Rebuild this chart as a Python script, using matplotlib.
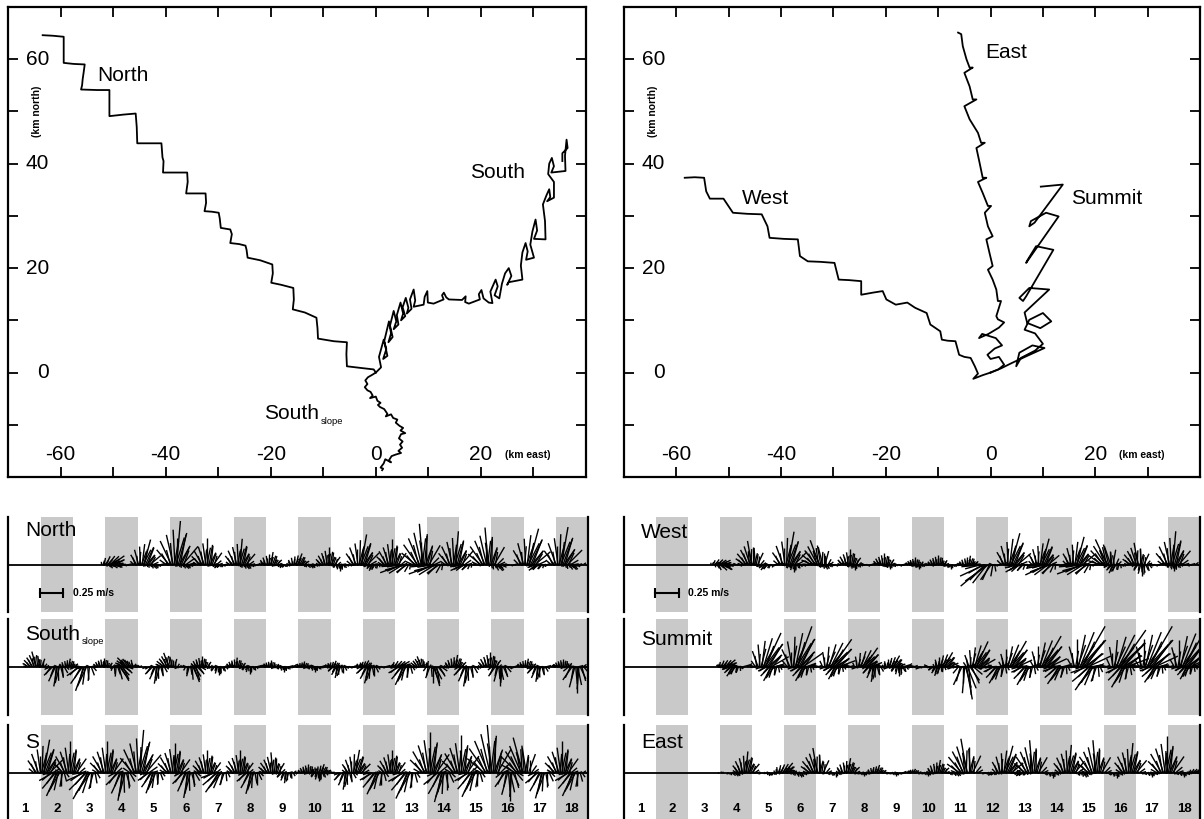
import numpy as np
import matplotlib.pyplot as plt
from matplotlib.collections import LineCollection

plt.rcParams['font.family'] = ['Liberation Sans', 'DejaVu Sans']

# ---------------- progressive vector diagrams (km east, km north) ----------------
north_x = [0, -0.4, -3.0, -5.5, -5.6, -5.5, -8.0, -11.0, -11.1, -11.3, -13.5, -15.8, -15.6, -15.7,
           -18.0, -19.9, -19.6, -19.7, -22.0, -24.4, -24.6, -24.8, -26.0, -27.7, -27.4, -27.7, -29.5,
           -29.7, -29.9, -31.2, -32.6, -32.3, -32.4, -34.0, -36.1, -35.8, -35.9, -38.0, -40.5, -40.4,
           -40.6, -40.8, -43.0, -45.4, -45.5, -45.7, -48.0, -50.7, -50.7, -50.7, -53.0, -56.1, -55.9,
           -55.8, -55.6, -55.4, -57.5, -59.4, -59.4, -59.4, -61.5, -63.4]
north_y = [0, 0.6, 0.9, 1.2, 3.5, 5.8, 6.0, 6.5, 8.5, 10.5, 11.5, 12.1, 14.0, 16.2,
           16.8, 17.2, 19.0, 20.7, 21.5, 22.0, 23.5, 24.3, 24.6, 24.8, 26.5, 27.4, 27.7,
           29.5, 30.6, 30.8, 30.9, 32.5, 34.3, 34.3, 34.3, 36.5, 38.3, 38.3, 38.3, 40.5,
           41.2, 43.9, 43.9, 43.9, 47.0, 49.6, 49.4, 49.1, 52.0, 54.1, 54.1, 54.2, 55.0,
           56.1, 57.5, 59.0, 59.1, 59.3, 62.0, 64.3, 64.5, 64.6]

south_x = [0, 1.0, 0.6, 1.5, 2.0, 1.4, 2.2, 1.6, 2.5, 2.9, 2.4, 3.2, 2.7, 3.4, 3.9, 3.4, 4.3, 4.0,
           4.7, 5.2, 4.8, 5.6, 5.1, 5.7, 6.2, 5.9, 6.8, 6.5, 7.2, 7.5, 7.2, 9.1, 9.3, 9.8, 9.9, 11.0,
           12.9, 12.6, 12.95, 13.4, 13.9, 16.4, 17.1, 17.0, 17.7, 19.8, 19.6, 20.1, 20.5, 21.5, 22.2,
           21.8, 22.8, 23.2, 22.6, 23.5, 24.0, 24.6, 25.3, 25.8, 25.0, 25.3, 27.9, 27.6, 27.9, 28.5,
           28.9, 28.6, 30.1, 29.4, 29.8, 30.4, 30.7, 30.1, 32.3, 32.2, 31.8, 32.5, 33.0, 33.2, 32.6,
           33.9, 33.9, 32.8, 33.0, 33.5, 33.9, 33.4, 36.1, 36.0, 36.3, 36.5, 35.5, 35.5]
south_y = [0, 1.0, 3.0, 6.3, 4.5, 2.6, 3.2, 6.0, 9.8, 7.5, 5.8, 6.8, 9.0, 11.8, 9.8, 8.3, 9.2, 11.0,
           13.4, 11.3, 10.0, 10.8, 12.5, 14.3, 12.4, 11.3, 12.2, 14.0, 15.9, 13.8, 12.6, 13.0, 14.5, 15.6,
           13.4, 13.2, 14.0, 14.8, 15.3, 14.4, 14.0, 13.9, 14.6, 13.5, 13.2, 14.0, 15.0, 15.8, 14.2, 13.4,
           13.3, 15.5, 17.8, 16.5, 14.8, 14.2, 17.0, 19.0, 20.0, 18.5, 16.8, 17.3, 17.8, 20.5, 23.0, 24.8,
           23.2, 21.6, 22.0, 24.5, 27.0, 29.3, 27.2, 25.6, 25.5, 29.0, 32.2, 34.0, 35.1, 33.6, 32.8,
           33.5, 36.5, 38.0, 40.0, 41.1, 39.5, 38.3, 38.6, 41.5, 44.6, 43.0, 42.0, 40.5]

slope_x = [0, -0.8, -1.5, -2.0, -1.6, -2.1, -1.6, -1.0, -0.6, -1.1, 0.0, 0.3, 0.9, 0.4, 0.8, 1.6,
           2.2, 1.9, 2.9, 3.3, 4.1, 3.8, 4.5, 5.2, 4.7, 5.6, 4.8, 4.4, 5.1, 4.6, 5.0, 4.3, 4.8, 3.8,
           3.0, 2.5, 2.9, 1.8, 1.5, 0.9, 1.4, 1.2]
slope_y = [0, -0.5, -0.9, -1.5, -2.2, -2.8, -3.4, -3.7, -4.4, -4.9, -4.6, -5.4, -5.8, -6.2, -6.6, -7.0,
           -7.9, -8.4, -8.0, -8.7, -9.0, -9.6, -10.2, -10.6, -11.1, -11.6, -11.8, -12.6, -13.2, -13.8,
           -14.4, -15.0, -15.4, -15.7, -16.0, -16.8, -17.2, -16.6, -17.4, -18.2, -18.4, -18.7]

west_x = [0, -1.5, -3.3, -2.4, -3.0, -3.8, -5.0, -6.0, -6.7, -8.2, -9.3, -9.6, -11.5, -12.2, -14.4,
          -15.9, -18.1, -19.9, -20.6, -22.5, -24.7, -24.7, -27.0, -29.0, -29.8, -32.5, -34.9, -36.4,
          -36.8, -39.5, -42.2, -42.6, -43.7, -46.5, -49.2, -51.0, -53.6, -54.3, -54.7, -56.5, -58.4]
west_y = [0, -0.5, -1.2, -0.2, 1.2, 2.8, 3.0, 3.4, 6.0, 6.1, 6.3, 7.9, 9.2, 11.4, 12.4,
          13.4, 13.0, 14.0, 15.6, 15.3, 14.9, 17.5, 17.7, 17.8, 21.0, 21.2, 21.3, 22.3,
          25.5, 25.6, 25.8, 28.0, 30.3, 30.4, 30.6, 33.3, 33.3, 34.7, 37.3, 37.4, 37.3]

east_x = [0, 1.5, 2.6, 1.6, 0.0, -0.6, 0.8, 2.2, 1.0, -1.6, -2.2, -0.4, 1.6, 2.6, 1.4, 1.1, 2.0, 1.4,
          1.1, 0.4, -0.5, 0.4, -0.2, -0.8, 0.4, -0.5, -1.1, 0.1, -0.5, -1.5, -2.4, -0.8, -1.5, -2.1,
          -2.7, -1.1, -1.8, -2.4, -4.0, -5.0, -2.7, -3.4, -4.0, -5.0, -3.4, -4.0, -4.6, -5.3, -5.6, -6.2]
east_y = [0, 0.6, 1.5, 3.0, 2.6, 3.4, 4.6, 5.2, 6.6, 7.4, 6.6, 7.4, 8.6, 9.6, 10.2, 10.8, 13.7, 13.7,
          15.9, 17.8, 19.7, 20.4, 22.9, 25.5, 26.1, 28.0, 30.6, 31.9, 31.9, 34.4, 36.5, 37.3, 37.3, 40.2,
          43.0, 44.0, 44.0, 45.9, 48.5, 51.0, 52.3, 52.3, 54.8, 57.4, 58.4, 58.4, 60.0, 62.5, 64.8, 65.1]

summit_x = [0, 2.0, 4.0, 7.0, 10.3, 8.0, 5.5, 4.9, 5.8, 8.5, 10.0, 8.5, 6.5, 7.4, 10.0, 11.6, 9.5,
            7.0, 6.5, 11.2, 7.4, 5.5, 6.2, 6.8, 12.0, 8.7, 7.1, 6.8, 7.7, 13.0, 10.6, 7.7, 7.4, 8.4,
            13.8, 9.6]
summit_y = [0, 0.8, 1.8, 3.2, 4.7, 5.2, 3.8, 1.2, 2.8, 4.2, 5.5, 7.5, 8.2, 10.1, 11.4, 9.8, 8.5,
            9.5, 11.5, 15.9, 16.2, 14.3, 13.7, 14.6, 23.5, 24.2, 21.6, 21.0, 22.3, 29.9, 30.6, 29.0,
            28.0, 28.7, 36.0, 35.6]

# ---------------- stick plots: fan time (day), peak speed (m/s), lean (deg, + = east) ----------------
north_up_t = [3.18, 4.19, 5.21, 6.17, 7.18, 8.14, 8.98, 9.94, 10.95, 11.91, 12.87, 13.88, 14.90, 16.16, 17.17]
north_up_v = [0.17, 0.28, 0.47, 0.29, 0.28, 0.14, 0.13, 0.19, 0.33, 0.28, 0.44, 0.36, 0.40, 0.40, 0.41]
north_up_a = [55, 15, 5, 0, 5, 10, 20, 0, 10, 0, -5, 5, -5, 15, 10]
north_dn_t = [3.3, 4.5, 5.5, 6.5, 7.4, 8.5, 9.4, 10.3, 11.3, 12.2, 13.2, 14.1, 15.2, 16.4, 17.5]
north_dn_v = [0.07, 0.05, 0.05, 0.05, 0.05, 0.04, 0.04, 0.06, 0.07, 0.24, 0.28, 0.14, 0.08, 0.10, 0.07]
north_dn_a = [70, 40, 40, -50, 30, -40, 30, 0, -30, -70, -70, -65, 40, -55, 45]

slope_up_t = [0.84, 1.86, 2.94, 3.66, 4.97, 5.99, 7.07, 8.14, 9.16, 10.1, 11.07, 12.15, 12.81, 13.88, 14.96, 16.1, 17.23]
slope_up_v = [0.17, 0.09, 0.10, 0.14, 0.16, 0.12, 0.10, 0.07, 0.06, 0.07, 0.08, 0.12, 0.12, 0.13, 0.16, 0.09, 0.09]
slope_up_a = [-15, 10, 0, -45, -20, 0, 5, 0, 10, 20, 30, 60, -20, 10, 0, 10, 0]
slope_dn_t = [1.5, 2.34, 3.48, 4.61, 5.75, 6.53, 7.48, 8.56, 9.52, 10.23, 11.19, 12.27, 13.23, 14.24, 15.26, 16.46, 17.65]
slope_dn_v = [0.21, 0.27, 0.17, 0.18, 0.17, 0.09, 0.07, 0.05, 0.05, 0.12, 0.18, 0.21, 0.21, 0.21, 0.20, 0.16, 0.28]
slope_dn_a = [-10, -20, 30, -10, 20, 0, 0, 0, 0, -15, -15, -25, 15, -10, 0, -10, 0]

s_up_t = [1.08, 1.91, 3.06, 4.07, 5.15, 6.17, 7.19, 8.20, 9.30, 9.70, 10.77, 11.91, 13.10, 14.06, 15.00, 15.97, 17.20]
s_up_v = [0.36, 0.34, 0.34, 0.46, 0.32, 0.25, 0.24, 0.22, 0.10, 0.10, 0.25, 0.25, 0.44, 0.40, 0.53, 0.39, 0.34]
s_up_a = [10, 0, 0, 5, 0, 0, 0, -5, 0, 20, 10, 0, 0, 0, -5, -15, 0]
s_dn_t = [1.50, 2.46, 3.54, 4.49, 5.57, 6.53, 7.54, 8.62, 9.64, 10.48, 11.44, 12.40, 13.47, 14.43, 15.56, 16.58, 17.54]
s_dn_v = [0.27, 0.32, 0.30, 0.23, 0.27, 0.25, 0.23, 0.11, 0.09, 0.18, 0.25, 0.30, 0.32, 0.28, 0.30, 0.28, 0.27]
s_dn_a = [-25, -30, -10, -20, -10, -35, -15, -10, 0, -10, -25, -25, -15, -25, 0, -15, -25]

west_up_t = [3.0, 3.98, 5.12, 6.09, 7.05, 8.13, 9.09, 9.81, 10.77, 12.10, 13.06, 14.14, 15.10, 16.06, 17.15]
west_up_v = [0.12, 0.26, 0.36, 0.28, 0.17, 0.13, 0.08, 0.11, 0.10, 0.35, 0.29, 0.31, 0.30, 0.24, 0.36]
west_up_a = [65, -10, 10, -20, 0, 0, 0, 0, 10, 15, 15, 15, -25, -10, 5]
west_dn_t = [3.1, 4.4, 5.3, 6.3, 7.2, 8.3, 9.2, 10.2, 11.3, 12.3, 13.2, 14.3, 15.3, 16.2, 17.2]
west_dn_v = [0.10, 0.07, 0.07, 0.05, 0.05, 0.04, 0.04, 0.04, 0.35, 0.15, 0.25, 0.28, 0.10, 0.12, 0.06]
west_dn_a = [60, -40, 0, 20, 0, 0, 0, 0, -50, -60, -65, -70, -30, 0, 0]

summit_up_t = [3.2, 4.4, 5.4, 6.5, 7.5, 8.4, 10.0, 11.0, 12.1, 13.1, 14.3, 15.5, 16.4, 17.5]
summit_up_v = [0.12, 0.40, 0.46, 0.36, 0.25, 0.14, 0.18, 0.30, 0.32, 0.38, 0.50, 0.48, 0.50, 0.48]
summit_up_a = [50, 25, 20, 35, 35, 30, 30, 25, 30, 30, 30, 35, 30, 30]
summit_dn_t = [3.4, 4.6, 5.6, 6.6, 7.8, 8.6, 9.8, 10.7, 11.7, 12.6, 13.6, 14.6, 15.6, 16.6, 17.6]
summit_dn_v = [0.12, 0.17, 0.17, 0.15, 0.16, 0.10, 0.10, 0.35, 0.20, 0.22, 0.22, 0.30, 0.25, 0.20, 0.15]
summit_dn_a = [-35, -30, -30, -30, -10, 0, -20, 10, -30, -30, -35, -35, -30, -35, -30]

east_up_t = [3.80, 5.00, 6.03, 6.99, 7.89, 9.03, 9.81, 10.71, 11.92, 12.76, 13.90, 14.74, 15.82, 16.96, 17.90]
east_up_v = [0.23, 0.14, 0.27, 0.16, 0.09, 0.05, 0.14, 0.37, 0.30, 0.35, 0.30, 0.35, 0.32, 0.39, 0.08]
east_up_a = [5, 40, -10, 10, 20, 30, 10, -10, 15, -5, 5, -5, 5, 0, 60]
east_dn_t = [3.5, 4.6, 5.5, 6.6, 7.5, 8.5, 9.5, 10.4, 11.5, 12.4, 13.4, 14.4, 15.4, 16.5, 17.5]
east_dn_v = [0.04, 0.04, 0.05, 0.04, 0.03, 0.03, 0.03, 0.04, 0.05, 0.06, 0.05, 0.05, 0.05, 0.04, 0.04]
east_dn_a = [30, -40, 20, 0, 0, 0, 0, 30, -60, -60, 0, 20, 0, 0, 0]

# fan shapes shared by all records: offset in time (day), fraction of peak, extra lean (deg)
UP_DT = [-0.30, -0.26, -0.22, -0.19, -0.16, -0.13, -0.10, -0.07, -0.05, -0.02, 0.0, 0.02, 0.05,
         0.08, 0.11, 0.14, 0.18, 0.22, 0.27, 0.33]
UP_REL = [0.20, 0.30, 0.45, 0.35, 0.60, 0.50, 0.70, 0.55, 0.80, 0.65, 1.00, 0.60, 0.75, 0.50,
          0.70, 0.45, 0.55, 0.35, 0.25, 0.18]
UP_ANG = [-60, -35, -45, -20, -30, -10, -18, 5, -8, 12, 0, -4, 10, 25, 6, 20, 35, 15, 50, 70]
DN_DT = [-0.26, -0.2, -0.15, -0.1, -0.06, -0.03, 0.0, 0.03, 0.07, 0.11, 0.16, 0.22, 0.28]
DN_REL = [0.25, 0.45, 0.6, 0.5, 0.8, 0.65, 1.0, 0.7, 0.85, 0.5, 0.55, 0.35, 0.2]
DN_ANG = [-50, -25, -35, -10, -15, 5, 0, 12, -5, 25, 15, 40, 60]
CH_DT = [0.04, 0.12, 0.2, 0.28, 0.36, 0.44, 0.52, 0.6, 0.68, 0.76, 0.84, 0.92]
CH_REL = [0.6, 1.0, 0.5, 0.8, 0.4, 0.9, 0.7, 0.5, 1.0, 0.6, 0.8, 0.4]
CH_ANG = [70, -75, 105, -110, 60, 85, -65, 115, 75, -95, 55, 100]

KX = 2.93  # days per m/s, keeps sticks isotropic


def stick(t, v, ang):
    a = np.radians(ang)
    return [(t, 0.0), (t + v * np.sin(a) * KX, v * np.cos(a))]


def draw_sticks(ax, up_t, up_v, up_a, dn_t, dn_v, dn_a, start, calm):
    segs = []
    for d in range(18):
        for dt, r, a in zip(CH_DT, CH_REL, CH_ANG):
            if d + dt >= start:
                segs.append(stick(d + dt, calm * r, a))
    for t, v, a in zip(up_t, up_v, up_a):
        for dt, r, da in zip(UP_DT, UP_REL, UP_ANG):
            segs.append(stick(t + dt, v * r, np.clip(a + da, -85, 85)))
    for t, v, a in zip(dn_t, dn_v, dn_a):
        for dt, r, da in zip(DN_DT, DN_REL, DN_ANG):
            segs.append(stick(t + dt, v * r, 180 - np.clip(a + da, -85, 85)))
    ax.add_collection(LineCollection(segs, colors='k', linewidths=1.0, zorder=3))


W, H = 1204, 819
fig = plt.figure(figsize=(W / 100, H / 100), dpi=100)


def px_axes(x0, y0, x1, y1):
    return fig.add_axes([x0 / W, 1 - y1 / H, (x1 - x0) / W, (y1 - y0) / H])


def pvd_frame(ax):
    ax.set_xlim(-70, 40)
    ax.set_ylim(-20, 70)
    ax.set_xticks(range(-60, 40, 10))
    ax.set_yticks(range(-10, 70, 10))
    ax.tick_params(direction='in', length=7, width=1.3, top=True, right=True,
                   labelbottom=False, labelleft=False)
    for s in ax.spines.values():
        s.set_linewidth(1.6)
    for v in [-60, -40, -20, 0, 20]:
        ax.text(v, 0.047, str(v), transform=ax.get_xaxis_transform(), ha='center', va='center', fontsize=15)
    for v in [0, 20, 40, 60]:
        ax.text(0.071, v, str(v), transform=ax.get_yaxis_transform(), ha='right', va='center', fontsize=15)
    ax.text(24.6, 0.047, '(km east)', transform=ax.get_xaxis_transform(), ha='left', va='center',
            fontsize=7.5, fontweight='bold')
    ax.text(0.05, 0.777, '(km north)', transform=ax.transAxes, rotation=90, ha='center', va='center',
            fontsize=7.5, fontweight='bold')


def sub_label(ax, x, y, main, sub, size, transform):
    t1 = ax.text(x, y, main, transform=transform, ha='left', va='center', fontsize=size)
    ax.annotate(sub, xy=(1.0, 0.12), xycoords=t1, xytext=(1, 0), textcoords='offset points',
                ha='left', va='center', fontsize=size * 0.45)


# top panels
ax1 = px_axes(8, 7, 586, 477)
pvd_frame(ax1)
ax1.plot(north_x, north_y, color='k', lw=1.3)
ax1.plot(south_x, south_y, color='k', lw=1.3)
ax1.plot(slope_x, slope_y, color='k', lw=1.3)
ax1.text(-53.1, 56.9, 'North', fontsize=15, va='center')
ax1.text(17.9, 38.3, 'South', fontsize=15, va='center')
sub_label(ax1, -21.3, -7.9, 'South', 'slope', 15, ax1.transData)

ax2 = px_axes(624, 7, 1200, 477)
pvd_frame(ax2)
ax2.plot(west_x, west_y, color='k', lw=1.3)
ax2.plot(east_x, east_y, color='k', lw=1.3)
ax2.plot(summit_x, summit_y, color='k', lw=1.3)
ax2.text(-1.1, 61.3, 'East', fontsize=15, va='center')
ax2.text(-47.5, 33.3, 'West', fontsize=15, va='center')
ax2.text(15.4, 33.3, 'Summit', fontsize=15, va='center')

# stick plot rows
rows = [
    ((8, 517, 588, 612), -0.03, north_up_t, north_up_v, north_up_a, north_dn_t, north_dn_v, north_dn_a, 2.9, 0.05, 'North', None, 0.86, -0.3),
    ((8, 619, 588, 715), -0.03, slope_up_t, slope_up_v, slope_up_a, slope_dn_t, slope_dn_v, slope_dn_a, 0.8, 0.06, 'South', 'slope', 0.84, None),
    ((8, 725, 588, 819), -0.03, s_up_t, s_up_v, s_up_a, s_dn_t, s_dn_v, s_dn_a, 0.85, 0.05, 'S', None, 0.81, None),
    ((624, 517, 1200, 612), -0.015, west_up_t, west_up_v, west_up_a, west_dn_t, west_dn_v, west_dn_a, 2.8, 0.06, 'West', None, 0.84, -0.3),
    ((624, 619, 1200, 715), -0.015, summit_up_t, summit_up_v, summit_up_a, summit_dn_t, summit_dn_v, summit_dn_a, 2.9, 0.08, 'Summit', None, 0.79, None),
    ((624, 725, 1200, 819), -0.015, east_up_t, east_up_v, east_up_a, east_dn_t, east_dn_v, east_dn_a, 2.9, 0.04, 'East', None, 0.81, None),
]

for box, x0, ut, uv, ua, dt, dv, da, start, calm, name, sub, ly, bar in rows:
    ax = px_axes(*box)
    hpx = box[3] - box[1]
    top = 48 / 94
    ax.set_ylim(top - hpx / 94, top)
    ax.set_xlim(x0, 18)
    for n in range(2, 19, 2):
        ax.axvspan(n - 1, n, color='#c9c9c9', lw=0, zorder=0)
    ax.axhline(0, color='k', lw=1.3, zorder=2)
    draw_sticks(ax, ut, uv, ua, dt, dv, da, start, calm)
    ax.set_xticks([])
    ax.set_yticks([])
    ax.spines['top'].set_visible(False)
    ax.spines['bottom'].set_visible(False)
    ax.spines['left'].set_linewidth(1.6)
    ax.spines['right'].set_linewidth(1.6)
    if sub:
        sub_label(ax, 0.03, ly, name, sub, 15, ax.transAxes)
    else:
        ax.text(0.03, ly, name, transform=ax.transAxes, fontsize=15, va='center', zorder=5)
    if bar is not None:
        ax.plot([0.96, 0.96 + 0.25 * KX], [bar, bar], color='k', lw=1.5, marker='|', ms=7, mew=1.5)
        ax.text(1.98, bar, '0.25 m/s', fontsize=7.5, fontweight='bold', va='center')
    if box[3] == 819:
        for n in range(1, 19):
            ax.text(n - 0.5, -0.385, str(n), ha='center', va='center', fontsize=9.5, fontweight='bold')

fig.savefig('out.png', dpi=100)
